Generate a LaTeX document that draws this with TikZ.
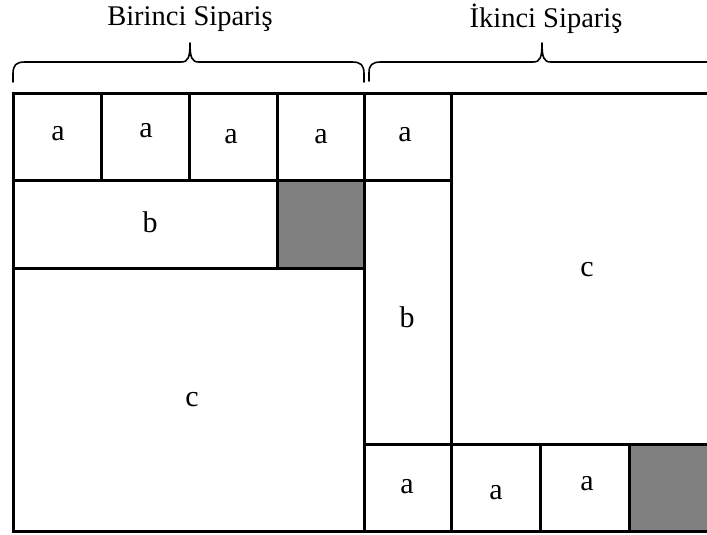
\documentclass[tikz,border=0pt]{standalone}
\usepackage{fontspec}
\setmainfont{Liberation Serif}
\begin{document}
\begin{tikzpicture}[x=1pt,y=-1pt,
  box/.style={draw=black,line width=3pt},
  shade/.style={draw=black,line width=3pt,fill=gray50},
  brace/.style={draw=black,line width=1.6pt,line cap=round,line join=round},
  lbl/.style={font=\fontsize{30}{32}\selectfont,inner sep=0pt,text=black},
  ttl/.style={font=\fontsize{28.5}{32}\selectfont,inner sep=0pt,text=black}]
\definecolor{gray50}{HTML}{808080}
\useasboundingbox (0,0) rectangle (707,535);
\clip (0,0) rectangle (707,535);
\fill[white] (0,0) rectangle (707,535);
% titles
\node[ttl] (t1) at (190,19) {Birinci Sipariş};
\node[ttl] (t2) at (546,19) {İkinci Sipariş};
% braces
\draw[brace] (13,82) -- (13,74) .. controls (13,65) and (16,62) .. (25,62)
  -- (181,62) .. controls (188,62) and (190,58) .. (190,43)
  .. controls (190,58) and (192,62) .. (199,62)
  -- (352,62) .. controls (361,62) and (364,65) .. (364,74) -- (364,82);
\draw[brace] (369,81) -- (369,73) .. controls (369,65) and (372,62) .. (381,62)
  -- (533,62) .. controls (540,62) and (542,58) .. (542,43)
  .. controls (542,58) and (544,62) .. (551,62) -- (712,62);
% first order
\draw[box] (13,93) rectangle (101,180);
\draw[box] (101,93) rectangle (189,180);
\draw[box] (189,93) rectangle (277,180);
\draw[box] (277,93) rectangle (364,180);
\draw[box] (13,180) rectangle (277,268);
\draw[shade] (277,180) rectangle (364,268);
\draw[box] (13,268) rectangle (364,531);
% second order
\draw[box] (364,93) rectangle (451,180);
\draw[box] (364,180) rectangle (451,444);
\draw[box] (451,93) rectangle (720,444);
\draw[box] (364,444) rectangle (451,531);
\draw[box] (451,444) rectangle (540,531);
\draw[box] (540,444) rectangle (629,531);
\draw[shade] (629,444) rectangle (720,531);
% labels
\node[lbl] (a1) at (58,134) {a};
\node[lbl] (a2) at (146,131) {a};
\node[lbl] (a3) at (231,137) {a};
\node[lbl] (a4) at (321,137) {a};
\node[lbl] (b1) at (150,222) {b};
\node[lbl] (c1) at (192,400) {c};
\node[lbl] (a5) at (405,135) {a};
\node[lbl] (b2) at (407,317) {b};
\node[lbl] (c2) at (587,270) {c};
\node[lbl] (a6) at (407,487) {a};
\node[lbl] (a7) at (496,493) {a};
\node[lbl] (a8) at (587,484) {a};
\end{tikzpicture}
\end{document}
